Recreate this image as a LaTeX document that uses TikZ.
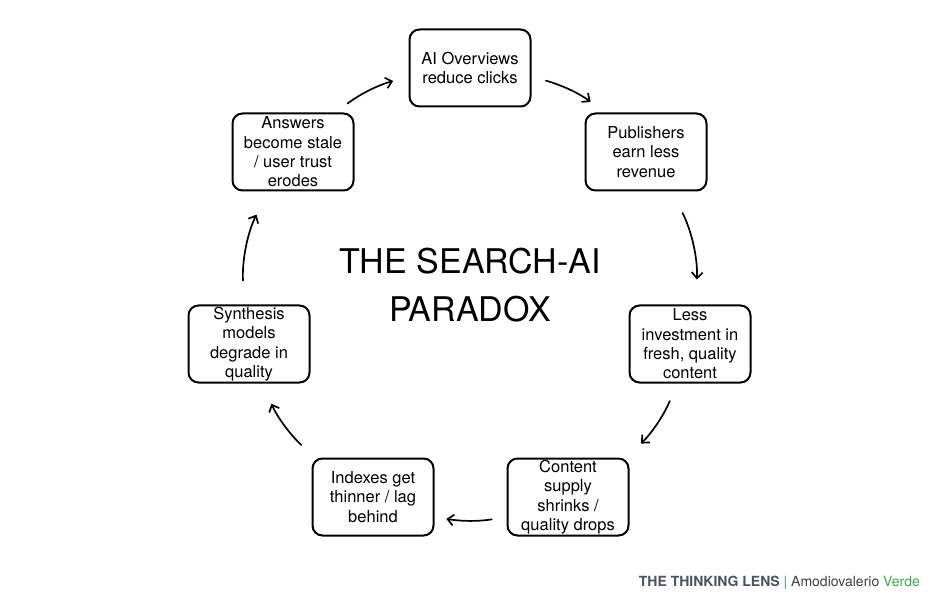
\documentclass[tikz,border=0pt]{standalone}
\usepackage{fontspec}
\setmainfont{TeX Gyre Heros}
\usetikzlibrary{arrows.meta}
\definecolor{lensgray}{HTML}{4A5461}
\definecolor{lensgreen}{HTML}{3DAA48}
\definecolor{namegray}{HTML}{3E3E3E}
\begin{document}
\begin{tikzpicture}[x=1pt,y=1pt,
  stepbox/.style={draw=black, line width=2pt, rounded corners=10pt, fill=white,
    minimum width=121pt, minimum height=77pt, inner sep=0pt, align=center,
    font=\fontsize{16.5}{19.3}\selectfont},
  arr/.style={-{Straight Barb[length=6pt,width=11pt]}, line width=1.7pt, line cap=round},
  titletext/.style={font=\fontsize{34}{40}\selectfont, anchor=base, inner sep=0pt}]
\useasboundingbox (0,0) rectangle (936,600);
\fill[white] (0,0) rectangle (936,600);

\node[stepbox] (n1) at (470,532) {AI Overviews\\reduce clicks};
\node[stepbox] (n2) at (646,448) {Publishers\\earn less\\revenue};
\node[stepbox] (n3) at (690,256) {Less\\investment in\\fresh, quality\\content};
\node[stepbox] (n4) at (568,103) {Content\\supply\\shrinks /\\quality drops};
\node[stepbox] (n5) at (373,103) {Indexes get\\thinner / lag\\behind};
\node[stepbox] (n6) at (249,256) {Synthesis\\models\\degrade in\\quality};
\node[stepbox] (n7) at (293,448) {Answers\\become stale\\/ user trust\\erodes};

\node[titletext] (t1) at (470,326) {THE SEARCH-AI};
\node[titletext] (t2) at (470,278) {PARADOX};

\draw[arr, shorten <=15pt, shorten >=16pt] (n7.43) to[bend left=10.4] (n1.188);
\draw[arr, shorten <=15pt, shorten >=18pt] (n1.-8) to[bend left=10.4] (n2.136);
\draw[arr, shorten <=24pt, shorten >=25pt] (n2.-57) to[bend left=14.9] (n3.82);
\draw[arr, shorten <=19pt, shorten >=20pt] (n3.-108) to[bend left=11.5] (n4.34);
\draw[arr, shorten <=15pt, shorten >=12pt] (n4.198) to[bend left=9.2] (n5.-18);
\draw[arr, shorten <=18pt, shorten >=22pt] (n5.146) to[bend left=11.5] (n6.-71);
\draw[arr, shorten <=24pt, shorten >=26pt] (n6.97) to[bend left=14.9] (n7.-122);

\node[anchor=base east, inner sep=0pt, font=\fontsize{14}{16}\selectfont] (footer) at (920,14)
  {\textcolor{lensgray}{\bfseries THE THINKING LENS} \textcolor{lensgreen}{|} \textcolor{namegray}{Amodiovalerio} \textcolor{lensgreen}{Verde}};
\end{tikzpicture}
\end{document}
